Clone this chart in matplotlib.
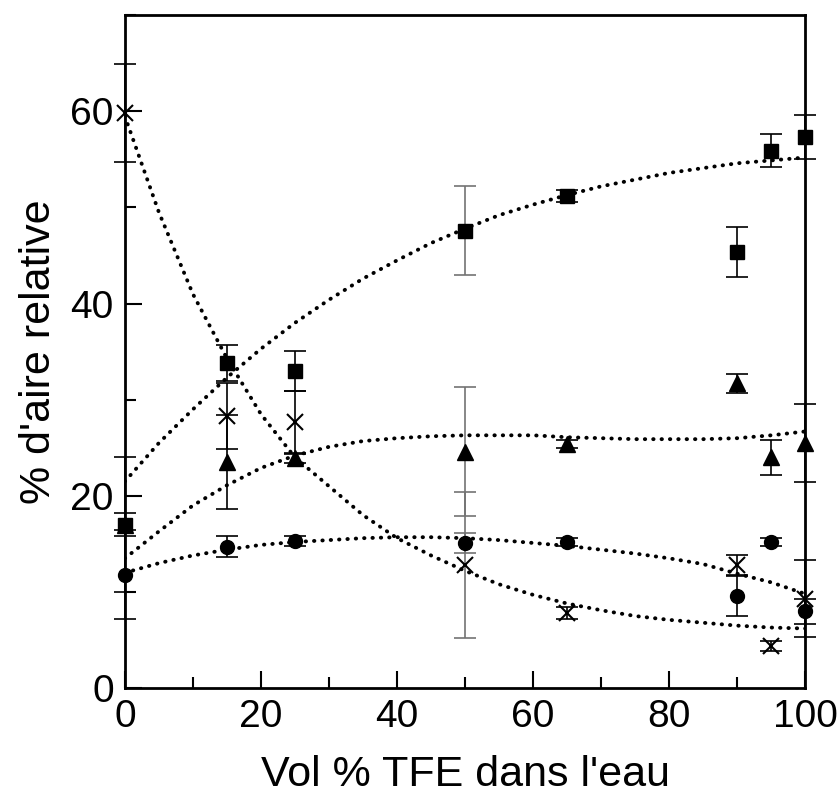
import numpy as np
import matplotlib
matplotlib.use("Agg")
import matplotlib.pyplot as plt
from matplotlib.ticker import MultipleLocator

plt.rcParams['font.family'] = ['Liberation Sans', 'DejaVu Sans']

# Measured points (vol % TFE)
tfe = [0, 15, 25, 50, 65, 90, 95, 100]

carre = [17.0, 33.8, 33.0, 47.6, 51.2, 45.4, 55.9, 57.3]
carre_err = [1.2, 1.9, 2.1, 4.6, 0.6, 2.6, 1.7, 2.3]

triangle = [17.0, 23.5, 23.9, 24.6, 25.4, 31.7, 24.0, 25.5]
triangle_err = [7.0, 4.9, 0.5, 6.7, 0.4, 1.0, 1.8, 4.1]

rond = [11.8, 14.7, 15.3, 15.1, 15.2, 9.6, 15.2, 8.0]
rond_err = [4.6, 1.1, 0.5, 1.0, 0.4, 2.1, 0.4, 1.3]

croix = [59.8, 28.3, 27.7, 12.8, 7.8, 12.8, 4.4, 9.3]
croix_err = [5.1, 3.4, 3.2, 7.6, 0.6, 1.0, 0.5, 4.0]

# dotted trend curves, every 5 %
x_curve = [0, 5, 10, 15, 20, 25, 30, 35, 40, 45, 50, 55, 60, 65, 70, 75, 80, 85, 90, 95, 100]
carre_curve = [21.5, 25.5, 29.0, 32.3, 35.3, 38.0, 40.4, 42.6, 44.5, 46.3, 47.8, 49.2,
               50.3, 51.3, 52.2, 52.9, 53.6, 54.1, 54.6, 54.9, 55.2]
triangle_curve = [13.5, 16.3, 19.0, 21.1, 22.9, 24.2, 25.1, 25.7, 26.0, 26.2, 26.3, 26.3,
                  26.3, 26.1, 26.0, 25.9, 25.9, 25.9, 26.0, 26.3, 26.7]
rond_curve = [12.0, 13.0, 13.8, 14.4, 14.9, 15.2, 15.4, 15.6, 15.7, 15.7, 15.6, 15.4,
              15.1, 14.8, 14.4, 14.0, 13.5, 12.9, 11.9, 11.0, 9.8]
croix_curve = [59.5, 49.5, 41.0, 34.3, 28.5, 24.0, 21.0, 18.0, 15.6, 13.8, 12.2, 10.8,
               9.7, 8.8, 8.1, 7.5, 7.1, 6.8, 6.5, 6.3, 6.2]

# error bars drawn lighter in the original
faint = [50]

fig = plt.figure(figsize=(8.38, 8.02), dpi=100)
ax = fig.add_axes([0.149, 0.142, 0.812, 0.839])

for yc in [carre_curve, triangle_curve, rond_curve, croix_curve]:
    ax.plot(x_curve, yc, color='black', lw=2.8, linestyle=(0, (0.1, 2.05)),
            dash_capstyle='round', zorder=2)

# triangles first so the square at 0 % hides the triangle behind it
series = [
    (triangle, triangle_err, dict(marker='^', ms=11, mfc='black', mec='black')),
    (rond, rond_err, dict(marker='o', ms=10, mfc='black', mec='black')),
    (croix, croix_err, dict(marker='x', ms=11, mec='black', mew=1.5)),
    (carre, carre_err, dict(marker='s', ms=10, mfc='black', mec='black')),
]

for y, err, style in series:
    for xi, yi, ei in zip(tfe, y, err):
        col = '0.45' if xi in faint else 'black'
        eb = ax.errorbar([xi], [yi], yerr=[ei], fmt='none', ecolor=col,
                         elinewidth=1.2, capsize=8, capthick=1.2, zorder=3)
        for art in eb.lines[1] + eb.lines[2]:
            art.set_clip_on(False)
    ax.plot(tfe, y, linestyle='none', zorder=4, clip_on=False, **style)

ax.set_xlim(0, 100)
ax.set_ylim(0, 70)
ax.xaxis.set_major_locator(MultipleLocator(20))
ax.xaxis.set_minor_locator(MultipleLocator(10))
ax.yaxis.set_major_locator(MultipleLocator(20))
ax.yaxis.set_minor_locator(MultipleLocator(10))
ax.tick_params(which='both', direction='in', top=False, right=False,
               labelsize=28, width=1.5, pad=8)
ax.tick_params(which='major', length=12)
ax.tick_params(which='minor', length=8)
for s in ax.spines.values():
    s.set_linewidth(2)

ax.set_xlabel("Vol % TFE dans l'eau", fontsize=31, labelpad=14)
ax.set_ylabel("% d'aire relative", fontsize=31, labelpad=8)

fig.savefig("out.png", dpi=100)
